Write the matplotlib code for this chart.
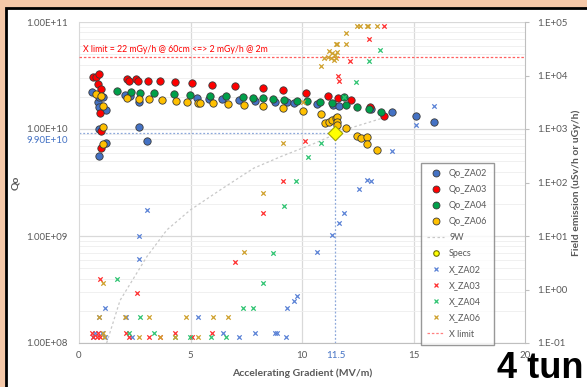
import matplotlib.pyplot as plt
from matplotlib.patches import Rectangle
from matplotlib.lines import Line2D
from matplotlib.ticker import NullFormatter, NullLocator, LogLocator

plt.rcParams['font.family'] = ['Lato', 'DejaVu Sans']

# Qo vs accelerating gradient (left axis)
qo_za02_x = [0.57, 0.84, 0.90, 1.09, 1.20, 0.90, 0.90, 0.90, 1.20, 2.07, 2.30, 2.71, 2.71, 3.04,
             5.29, 5.81, 6.41, 7.19, 7.91, 8.81, 9.33, 9.66, 10.68, 11.38, 11.67, 13.08, 14.05,
             15.11, 15.92]
qo_za02_q = [2.2e10, 1.8e10, 2.0e10, 1.98e10, 1.51e10, 1.6e10, 1.0e10, 5.6e9, 7.4e9, 2.1e10,
             2.03e10, 1.8e10, 1.05e10, 7.7e9, 1.96e10, 1.91e10, 1.9e10, 1.87e10, 1.84e10, 1.8e10,
             1.79e10, 1.76e10, 1.7e10, 1.68e10, 1.64e10, 1.55e10, 1.44e10, 1.33e10, 1.16e10]

qo_za03_x = [0.64, 0.78, 0.90, 0.84, 0.98, 0.96, 0.98, 0.98, 2.15, 2.26, 2.55, 2.64, 3.11, 3.64,
             4.30, 5.07, 5.96, 7.00, 8.24, 9.16, 10.17, 11.16, 11.61, 12.18, 13.05, 13.68]
qo_za03_q = [3.04e10, 3.04e10, 3.24e10, 2.64e10, 2.37e10, 1.40e10, 9.5e9, 6.6e9, 2.93e10, 2.81e10,
             2.93e10, 2.78e10, 2.81e10, 2.78e10, 2.73e10, 2.67e10, 2.6e10, 2.52e10, 2.4e10,
             2.31e10, 2.18e10, 2.05e10, 1.96e10, 1.85e10, 1.62e10, 1.33e10]

qo_za04_x = [1.72, 2.34, 2.74, 3.38, 4.26, 4.99, 5.89, 6.59, 7.36, 7.81, 8.26, 8.71, 9.18, 9.78,
             10.23, 10.80, 11.36, 11.87, 11.96, 12.48, 13.00, 13.53]
qo_za04_q = [2.26e10, 2.2e10, 2.18e10, 2.16e10, 2.11e10, 2.08e10, 2.05e10, 2.03e10, 1.98e10,
             1.96e10, 1.94e10, 1.91e10, 1.87e10, 1.84e10, 1.81e10, 1.78e10, 1.74e10, 2.0e10,
             1.68e10, 1.62e10, 1.55e10, 1.44e10]

qo_za06_x = [0.78, 0.98, 1.08, 1.08, 1.08, 2.17, 2.67, 3.15, 3.72, 4.35, 4.84, 5.33, 5.41, 6.01,
             6.67, 7.42, 8.26, 9.16, 10.05, 10.83, 11.02, 11.20, 11.36, 11.51, 11.55, 11.58, 11.58,
             11.96, 12.48, 12.63, 12.93, 12.90, 13.38]
qo_za06_q = [2.11e10, 2.03e10, 1.64e10, 1.05e10, 7.2e9, 1.94e10, 1.92e10, 1.9e10, 1.85e10,
             1.81e10, 1.79e10, 1.76e10, 1.76e10, 1.74e10, 1.70e10, 1.68e10, 1.64e10, 1.58e10,
             1.48e10, 1.37e10, 1.13e10, 1.16e10, 1.21e10, 1.26e10, 1.30e10, 1.17e10, 1.09e10,
             1.03e10, 8.6e9, 8.3e9, 8.4e9, 7.3e9, 6.3e9]

# 9W iso-power curve
w9_x = [1.24, 1.84, 3.04, 3.94, 4.99, 6.34, 7.83, 9.03, 10.53, 12.03, 13.8]
w9_q = [1.0e8, 2.5e8, 6.4e8, 1.14e9, 1.75e9, 2.7e9, 4.3e9, 5.5e9, 7.3e9, 1.0e10, 1.3e10]

spec_x = 11.5
spec_q = 9.2e9

# field emission (right axis)
x_za02_x = [0.64, 0.72, 1.02, 1.18, 1.18, 0.90, 2.09, 2.37, 2.71, 2.71, 3.04, 5.33, 6.46, 7.19,
            7.91, 8.77, 8.89, 9.30, 9.33, 9.63, 9.78, 10.67, 11.33, 11.68, 11.88, 12.55, 12.90,
            13.11, 14.05, 15.12, 15.92]
x_za02_v = [0.13, 0.155, 0.155, 0.13, 0.45, 0.30, 0.30, 0.13, 3.7, 10, 30, 0.30, 0.155, 0.13,
            0.155, 0.155, 0.155, 0.13, 0.45, 0.62, 0.74, 5.0, 10.3, 17.7, 27, 76, 111, 105, 390,
            1170, 2700]

x_za03_x = [0.57, 0.64, 0.79, 0.87, 0.94, 0.94, 2.11, 2.22, 2.60, 3.12, 3.64, 4.29, 5.06, 5.96,
            7.01, 8.24, 9.16, 10.15, 11.62, 11.66, 12.15, 13.00, 13.68]
x_za03_v = [0.155, 0.13, 0.13, 0.155, 0.13, 1.56, 0.155, 0.13, 0.87, 0.13, 0.13, 0.155, 0.13,
            0.155, 3.3, 26.5, 105, 590, 1.0e4, 8.0e3, 1.88e4, 4.8e4, 8.5e4]

x_za04_x = [2.26, 3.38, 4.29, 4.99, 5.92, 6.60, 1.69, 2.74, 7.36, 7.79, 8.24, 8.70, 9.18, 9.72,
            10.25, 10.83, 11.88, 12.44, 12.99, 13.50]
x_za04_v = [0.155, 0.155, 0.13, 0.13, 0.13, 0.13, 1.56, 0.30, 0.45, 0.45, 1.34, 4.75, 37, 105,
            300, 540, 4.0e3, 7.7e3, 1.88e4, 3.0e4]

x_za06_x = [1.09, 1.14, 2.67, 3.64, 4.29, 5.33, 1.06, 0.91, 2.07, 3.15, 4.81, 5.99, 6.67, 7.42,
            8.24, 9.16, 10.05, 10.83, 11.00, 11.15, 11.20, 11.28, 11.36, 11.43, 11.48, 11.51,
            11.55, 11.51, 11.58, 11.96, 11.96, 12.45, 12.60, 12.90, 12.96, 13.35]
x_za06_v = [0.155, 0.13, 0.13, 0.13, 0.13, 0.13, 1.34, 0.30, 0.30, 0.30, 0.30, 0.30, 0.30, 5.0,
            64, 540, 3.2e3, 1.52e4, 2.1e4, 2.2e4, 2.9e4, 2.1e4, 2.6e4, 1.95e4, 2.4e4, 2.1e4,
            2.8e4, 3.8e4, 3.8e4, 3.8e4, 6.3e4, 8.5e4, 8.5e4, 8.5e4, 8.5e4, 8.5e4]

x_limit = 2.2e4

x_ticks = [0, 5, 10, 11.5, 15, 20]
x_tick_labels = ['0', '5', '10', '11.5', '15', '20']
q_ticks = [1e8, 1e9, 1e10, 1e11]
q_tick_labels = ['1.00E+08', '1.00E+09', '1.00E+10', '1.00E+11']
fe_ticks = [1e-1, 1e0, 1e1, 1e2, 1e3, 1e4, 1e5]
fe_tick_labels = ['1.E-01', '1.E+00', '1.E+01', '1.E+02', '1.E+03', '1.E+04', '1.E+05']

GRAY = '#595959'
BLUE = '#4472C4'

fig = plt.figure(figsize=(5.87, 3.87), dpi=100, facecolor='#F5C8A8')
fig.patches.append(Rectangle((6 / 587, -0.05), 1.1, 1 - 8 / 387 + 0.05, transform=fig.transFigure,
                             facecolor='white', edgecolor='black', linewidth=2, zorder=-10))

ax = fig.add_axes([79 / 587, 1 - 343 / 387, 446 / 587, 321 / 387])
ax.set_facecolor('none')
ax.set_yscale('log')
ax.set_xlim(0, 20)
ax.set_ylim(1e8, 1e11)
ax.set_axisbelow(True)

# grid
ax.yaxis.set_minor_locator(LogLocator(base=10, subs=range(2, 10)))
ax.grid(which='major', axis='y', color='#D9D9D9', lw=0.9)
ax.grid(which='minor', axis='y', color='#EEEEEE', lw=0.6)
for v in [5, 10, 15]:
    ax.axvline(v, color='#D9D9D9', lw=0.9, zorder=0.5)

# Qo series
ax.scatter(qo_za02_x, qo_za02_q, s=28, c=BLUE, edgecolors='#3A3A3A', linewidths=0.6, zorder=3)
ax.scatter(qo_za03_x, qo_za03_q, s=28, c='#FF0000', edgecolors='#3A3A3A', linewidths=0.6, zorder=3)
ax.scatter(qo_za04_x, qo_za04_q, s=28, c='#00A04A', edgecolors='#3A3A3A', linewidths=0.6, zorder=3)
ax.scatter(qo_za06_x, qo_za06_q, s=28, c='#FFC000', edgecolors='#3A3A3A', linewidths=0.6, zorder=3)

ax.plot(w9_x, w9_q, ls=(0, (2, 2)), color='#C8C8C8', lw=0.9, zorder=2)

# spec lines and point
ax.plot([0, spec_x], [spec_q, spec_q], ls=(0, (1.5, 1.5)), color='#8EA9DB', lw=0.9, zorder=2)
ax.plot([spec_x, spec_x], [1e8, spec_q], ls=(0, (1.5, 1.5)), color='#8EA9DB', lw=0.9, zorder=2)
ax.scatter([spec_x], [spec_q], marker='D', s=55, c='#FFFF00', edgecolors='#A0A000', linewidths=0.8, zorder=4)

ax.set_xticks(x_ticks)
ax.set_xticklabels(x_tick_labels)
ax.set_yticks(q_ticks)
ax.set_yticklabels(q_tick_labels)
ax.yaxis.set_minor_formatter(NullFormatter())
ax.tick_params(axis='both', which='both', length=0, labelsize=7, labelcolor=GRAY)
ax.tick_params(axis='y', pad=8)
ax.tick_params(axis='x', pad=6)
for lbl in ax.get_xticklabels():
    if lbl.get_text() == '11.5':
        lbl.set_color(BLUE)
for s in ['top', 'right']:
    ax.spines[s].set_visible(False)
ax.spines['left'].set_color('#D9D9D9')
ax.spines['bottom'].set_color('#BFBFBF')

ax.annotate('9.90E+10', xy=(-0.024, spec_q), xycoords=ax.get_yaxis_transform(),
            xytext=(0, -2), textcoords='offset points', ha='right', va='top',
            fontsize=7, color=BLUE)

ax.set_xlabel('Accelerating Gradient (MV/m)', fontsize=7.5, fontweight='bold', color=GRAY)
ax.xaxis.set_label_coords(0.5, -0.078)
ax.set_ylabel('Qo', fontsize=7.5, fontweight='bold', color=GRAY)
ax.yaxis.set_label_coords(-0.131, 0.5)

# secondary axis: field emission
ax2 = ax.twinx()
ax2.set_yscale('log')
ax2.set_ylim(1e-1, 1e5)
ax2.plot([0, 20], [x_limit, x_limit], ls=(0, (2, 1.5)), color='#FF6060', lw=0.9, zorder=2)
ax2.text(0.18, 3.1e4, 'X limit = 22 mGy/h @ 60cm <=> 2 mGy/h @ 2m', fontsize=6.3, color='#FF0000',
         va='center')

ax2.scatter(x_za02_x, x_za02_v, marker='x', s=10, c='#5B82D6', linewidths=0.9, zorder=3)
ax2.scatter(x_za03_x, x_za03_v, marker='x', s=10, c='#FF3030', linewidths=0.9, zorder=3)
ax2.scatter(x_za04_x, x_za04_v, marker='x', s=10, c='#2FC472', linewidths=0.9, zorder=3)
ax2.scatter(x_za06_x, x_za06_v, marker='x', s=10, c='#CFA12E', linewidths=0.9, zorder=3)

ax2.set_yticks(fe_ticks)
ax2.set_yticklabels(fe_tick_labels)
ax2.yaxis.set_minor_locator(NullLocator())
ax2.tick_params(axis='y', length=3, color='#BFBFBF', labelsize=7, labelcolor=GRAY, pad=6)
for s in ['top', 'left', 'bottom']:
    ax2.spines[s].set_visible(False)
ax2.spines['right'].set_color('#BFBFBF')
ax2.set_ylabel('Field emission (uSv/h or uGy/h)', fontsize=7.5, fontweight='bold', color=GRAY)
ax2.yaxis.set_label_coords(1.105, 0.5)

handles = [
    Line2D([], [], ls='none', marker='o', ms=5, mfc=BLUE, mec='#3A3A3A', mew=0.6),
    Line2D([], [], ls='none', marker='o', ms=5, mfc='#FF0000', mec='#3A3A3A', mew=0.6),
    Line2D([], [], ls='none', marker='o', ms=5, mfc='#00A04A', mec='#3A3A3A', mew=0.6),
    Line2D([], [], ls='none', marker='o', ms=5, mfc='#FFC000', mec='#3A3A3A', mew=0.6),
    Line2D([], [], ls=(0, (2, 2)), color='#C8C8C8', lw=0.9),
    Line2D([], [], ls='none', marker='o', ms=4, mfc='#FFFF00', mec='#707000', mew=0.8),
    Line2D([], [], ls='none', marker='x', ms=3.5, color='#5B82D6', mew=0.9),
    Line2D([], [], ls='none', marker='x', ms=3.5, color='#FF3030', mew=0.9),
    Line2D([], [], ls='none', marker='x', ms=3.5, color='#2FC472', mew=0.9),
    Line2D([], [], ls='none', marker='x', ms=3.5, color='#CFA12E', mew=0.9),
    Line2D([], [], ls=(0, (2, 1.5)), color='#FF8080', lw=0.9),
]
labels = ['Qo_ZA02', 'Qo_ZA03', 'Qo_ZA04', 'Qo_ZA06', '9W', 'Specs',
          'X_ZA02', 'X_ZA03', 'X_ZA04', 'X_ZA06', 'X limit']
leg = ax2.legend(handles, labels, loc='upper left', bbox_to_anchor=(0.767, 0.561), fontsize=6.5,
                 labelcolor=GRAY, frameon=True, fancybox=False, edgecolor='#7F7F7F',
                 handlelength=1.8, handletextpad=0.6, labelspacing=0.78, borderpad=0.7,
                 borderaxespad=0)
leg.get_frame().set_linewidth(1)
leg.set_zorder(10)

fig.text(497 / 587, 9 / 387, '4 tun', fontsize=26, fontweight='bold', color='black',
         family='Liberation Sans', va='baseline')

fig.savefig('out.png', dpi=100, facecolor=fig.get_facecolor())
